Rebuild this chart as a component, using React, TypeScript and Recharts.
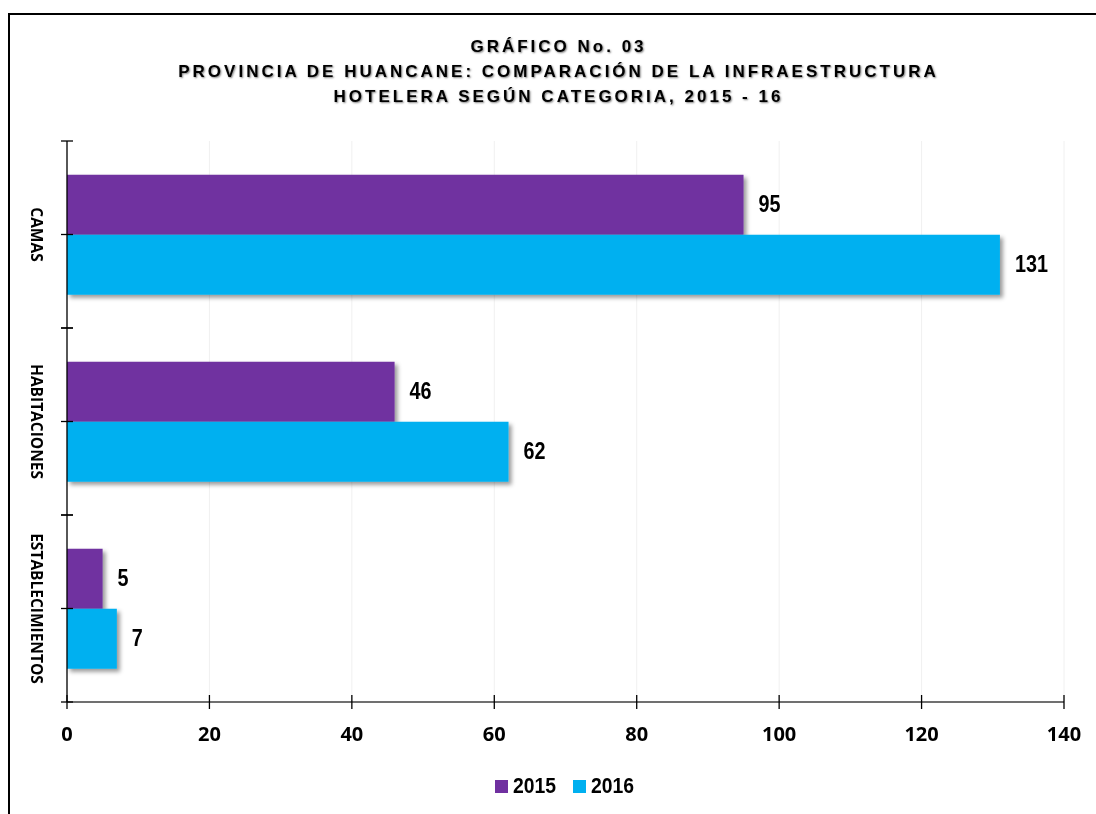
import React from 'react';
import { BarChart, Bar, XAxis, YAxis, CartesianGrid, LabelList, Legend } from 'recharts';

const titleLines = [
  'GRÁFICO No. 03',
  'PROVINCIA DE HUANCANE: COMPARACIÓN DE LA INFRAESTRUCTURA',
  'HOTELERA SEGÚN CATEGORIA, 2015 - 16',
];
const categories = ['CAMAS', 'HABITACIONES', 'ESTABLECIMIENTOS'];
const values2015 = [95, 46, 5];
const values2016 = [131, 62, 7];
const seriesNames = ['2015', '2016'];
const seriesColors = ['#7030A0', '#00B0F0'];
const xTicks = [0, 20, 40, 60, 80, 100, 120, 140];

const data = categories.map((c, i) => ({ name: c, v2015: values2015[i], v2016: values2016[i] }));

const narrowFont = '"Liberation Sans", Arial, sans-serif';
const tickFont = '"Open Sans", "Noto Sans", sans-serif';

const YTick = (props: any) => {
  const { x, y, payload } = props;
  const off = payload && payload.offset ? payload.offset : 0;
  return (
    <g>
      <line x1={x - 6} x2={x + 6} y1={y} y2={y} stroke="#000" strokeWidth={1.3} />
      <line x1={x - 6} x2={x + 6} y1={y - off} y2={y - off} stroke="#000" strokeWidth={1.3} />
      <line x1={x - 6} x2={x + 6} y1={y + off} y2={y + off} stroke="#000" strokeWidth={1.3} />
      <text
        x={x - 30}
        y={y}
        transform={`rotate(90 ${x - 30} ${y})`}
        textAnchor="middle"
        dominantBaseline="central"
        fontFamily={tickFont}
        fontWeight={700}
        fontSize={15.5}
        fill="#000"
      >
        {payload.value}
      </text>
    </g>
  );
};

const XTick = (props: any) => {
  const { x, y, payload } = props;
  return (
    <g>
      <line x1={x} x2={x} y1={y - 7} y2={y + 7} stroke="#000" strokeWidth={1.3} />
      <text
        x={x}
        y={y + 31}
        textAnchor="middle"
        dominantBaseline="central"
        fontFamily={tickFont}
        fontWeight={700}
        fontSize={20}
        fill="#000"
      >
        {payload.value}
      </text>
    </g>
  );
};

const BarLabel = (props: any) => {
  const { x, y, width, height, value } = props;
  const tx = Number(x) + Number(width) + 15;
  const ty = Number(y) + Number(height) / 2;
  return (
    <text
      x={0}
      y={0}
      transform={`translate(${tx} ${ty}) scale(0.86 1)`}
      textAnchor="start"
      dominantBaseline="central"
      fontFamily={narrowFont}
      fontWeight={700}
      fontSize={23}
      fill="#000"
    >
      {value}
    </text>
  );
};

const LegendContent = () => (
  <div style={{ display: 'flex', alignItems: 'center', height: 30, fontFamily: narrowFont, fontWeight: 700, fontSize: 22, color: '#000' }}>
    {seriesNames.map((n, i) => (
      <div key={n} style={{ display: 'flex', alignItems: 'center', width: 78 }}>
        <div style={{ width: 13, height: 13, background: seriesColors[i], marginRight: 5, flex: 'none' }} />
        <span style={{ display: 'inline-block', transform: 'scaleX(0.88)', transformOrigin: 'left center' }}>{n}</span>
      </div>
    ))}
  </div>
);

export default function App() {
  return (
    <div style={{ position: 'relative', width: 1088, height: 798, fontFamily: 'Liberation Sans, Arial, sans-serif' }}>
      <div
        style={{
          position: 'fixed',
          left: 8,
          top: 13,
          width: 1300,
          height: 1000,
          border: '2.5px solid #000',
          boxSizing: 'border-box',
          pointerEvents: 'none',
        }}
      />
      <svg width={0} height={0} style={{ position: 'absolute' }}>
        <defs>
          <filter id="barShadow" x="-10%" y="-10%" width="130%" height="140%">
            <feDropShadow dx={3} dy={3} stdDeviation={2} floodColor="#000" floodOpacity={0.4} />
          </filter>
        </defs>
      </svg>
      <div
        style={{
          position: 'absolute',
          left: 0,
          top: 25.5,
          width: 1101,
          textAlign: 'center',
          fontFamily: '"Liberation Sans", Arial, sans-serif',
          fontWeight: 700,
          fontSize: 17,
          lineHeight: '25px',
          letterSpacing: 3.0,
          color: '#000',
          textShadow: '1px 1px 2px rgba(0,0,0,0.5)',
          zIndex: 2,
        }}
      >
        {titleLines.map((l) => (
          <div key={l}>{l}</div>
        ))}
      </div>
      <BarChart
        width={1088}
        height={798}
        data={data}
        layout="vertical"
        margin={{ top: 133, right: 32, left: 0, bottom: 5 }}
        barCategoryGap="18%"
        barGap={0}
      >
        <CartesianGrid horizontal={false} stroke="#f0f0f0" />
        <XAxis
          type="number"
          domain={[0, 140]}
          ticks={xTicks}
          height={69}
          tickSize={0}
          tickMargin={0}
          tick={<XTick />}
          axisLine={{ stroke: '#404040', strokeWidth: 1.5 }}
          tickLine={false}
        />
        <YAxis
          type="category"
          dataKey="name"
          width={59}
          tickSize={0}
          tickMargin={0}
          tick={<YTick />}
          axisLine={{ stroke: '#000', strokeWidth: 1.3 }}
          tickLine={false}
          interval={0}
        />
        <Legend
          verticalAlign="bottom"
          content={<LegendContent />}
          wrapperStyle={{ left: 487, width: 220, height: 30 }}
        />
        <Bar dataKey="v2015" name={seriesNames[0]} fill={seriesColors[0]} isAnimationActive={false} filter="url(#barShadow)">
          <LabelList dataKey="v2015" content={<BarLabel />} />
        </Bar>
        <Bar dataKey="v2016" name={seriesNames[1]} fill={seriesColors[1]} isAnimationActive={false} filter="url(#barShadow)">
          <LabelList dataKey="v2016" content={<BarLabel />} />
        </Bar>
      </BarChart>
    </div>
  );
}
